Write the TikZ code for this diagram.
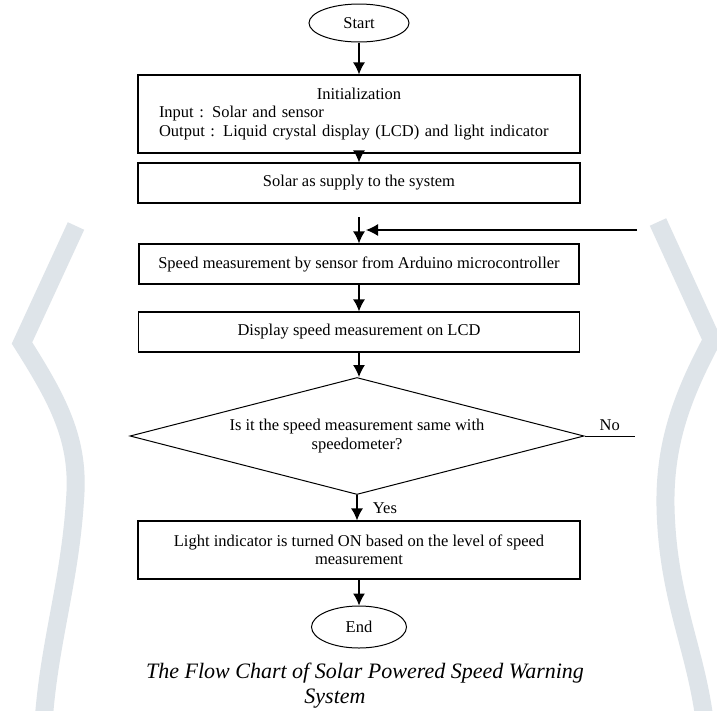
\documentclass[tikz,border=0pt]{standalone}
\usepackage{fontspec}
\setmainfont{Liberation Serif}
\usetikzlibrary{arrows.meta,shapes.geometric}

\definecolor{wmgray}{RGB}{222,228,233}

\tikzset{
  procbox/.style={draw,line width=1.2pt,minimum width=442pt,minimum height=40pt,inner sep=0pt,align=center},
  termnode/.style={ellipse,draw,line width=1pt,inner sep=0pt},
  decision/.style={diamond,draw,line width=1pt,minimum width=454pt,minimum height=117pt,aspect=3.9,inner sep=0pt,align=center},
  flow/.style={->,line width=1.2pt},
  wmark/.style={line width=18pt,draw=wmgray,line join=miter}
}

\begin{document}
\begin{tikzpicture}[x=1pt,y=-1pt,>={Latex[length=12pt,width=12pt]},font=\fontsize{16.5}{18.5}\selectfont]
   \useasboundingbox (0,0) rectangle (717,710);
   \fill[white] (0,0) rectangle (717,710);

   % 透かし
   \draw[wmark] (76,226) -- (22,343) .. controls (58,400) and (80,440) .. (75,500)
      .. controls (70,580) and (50,640) .. (44,716);
   \draw[wmark] (658,222) -- (712,340) .. controls (680,400) and (662,450) .. (666,520)
      .. controls (670,600) and (695,650) .. (704,716);

   % 処理
   \node[termnode,minimum width=100pt,minimum height=38pt] (start) at (359,23) {Start};
   \node[procbox,minimum height=78pt,text width=400pt,align=left] (init) at (359,114)
      {\makebox[400pt][c]{Initialization}\\Input : Solar and sensor\\Output : Liquid crystal display (LCD) and light indicator};
   \node[procbox] (solar) at (359,183) {Solar as supply to the system};
   \node[procbox,minimum width=440pt] (speed) at (359,264) {Speed measurement by sensor from Arduino microcontroller};
   \node[procbox,minimum width=441pt] (display) at (359,332) {Display speed measurement on LCD};
   \node[decision] (check) at (357,436) {Is it the speed measurement same with\\speedometer?};
   \node[procbox,minimum height=58pt] (light) at (359,550) {Light indicator is turned ON based on the level of speed\\measurement};
   \node[termnode,minimum width=95pt,minimum height=42pt] (stop) at (359,627) {End};

   % 矢印
   \coordinate (gap) at (359,217);
   \coordinate (loopR) at (637,230);
   \coordinate (loopL) at (366,230);
   \coordinate (noR) at (635,436);
   \draw[flow] (start) -- (init);
   \draw[flow] (init) -- (solar);
   \draw[flow] (gap) -- (speed);
   \draw[flow] (loopR) -- (loopL);
   \draw[flow] (speed) -- (display);
   \draw[flow] (display.south) -- (display.south |- check.north);
   \draw[line width=1pt] (check.east) -- (noR) node[midway,above=2pt] {No};
   \draw[flow] (check.south) -- (check.south |- light.north) node[midway,right=12pt] {Yes};
   \draw[flow] (light) -- (stop);

   % 図の題
   \node[font=\fontsize{22}{26}\selectfont\itshape] (cap1) at (365,673) {The Flow Chart of Solar Powered Speed Warning};
   \node[font=\fontsize{22}{26}\selectfont\itshape] (cap2) at (335,699) {System};
\end{tikzpicture}
\end{document}
